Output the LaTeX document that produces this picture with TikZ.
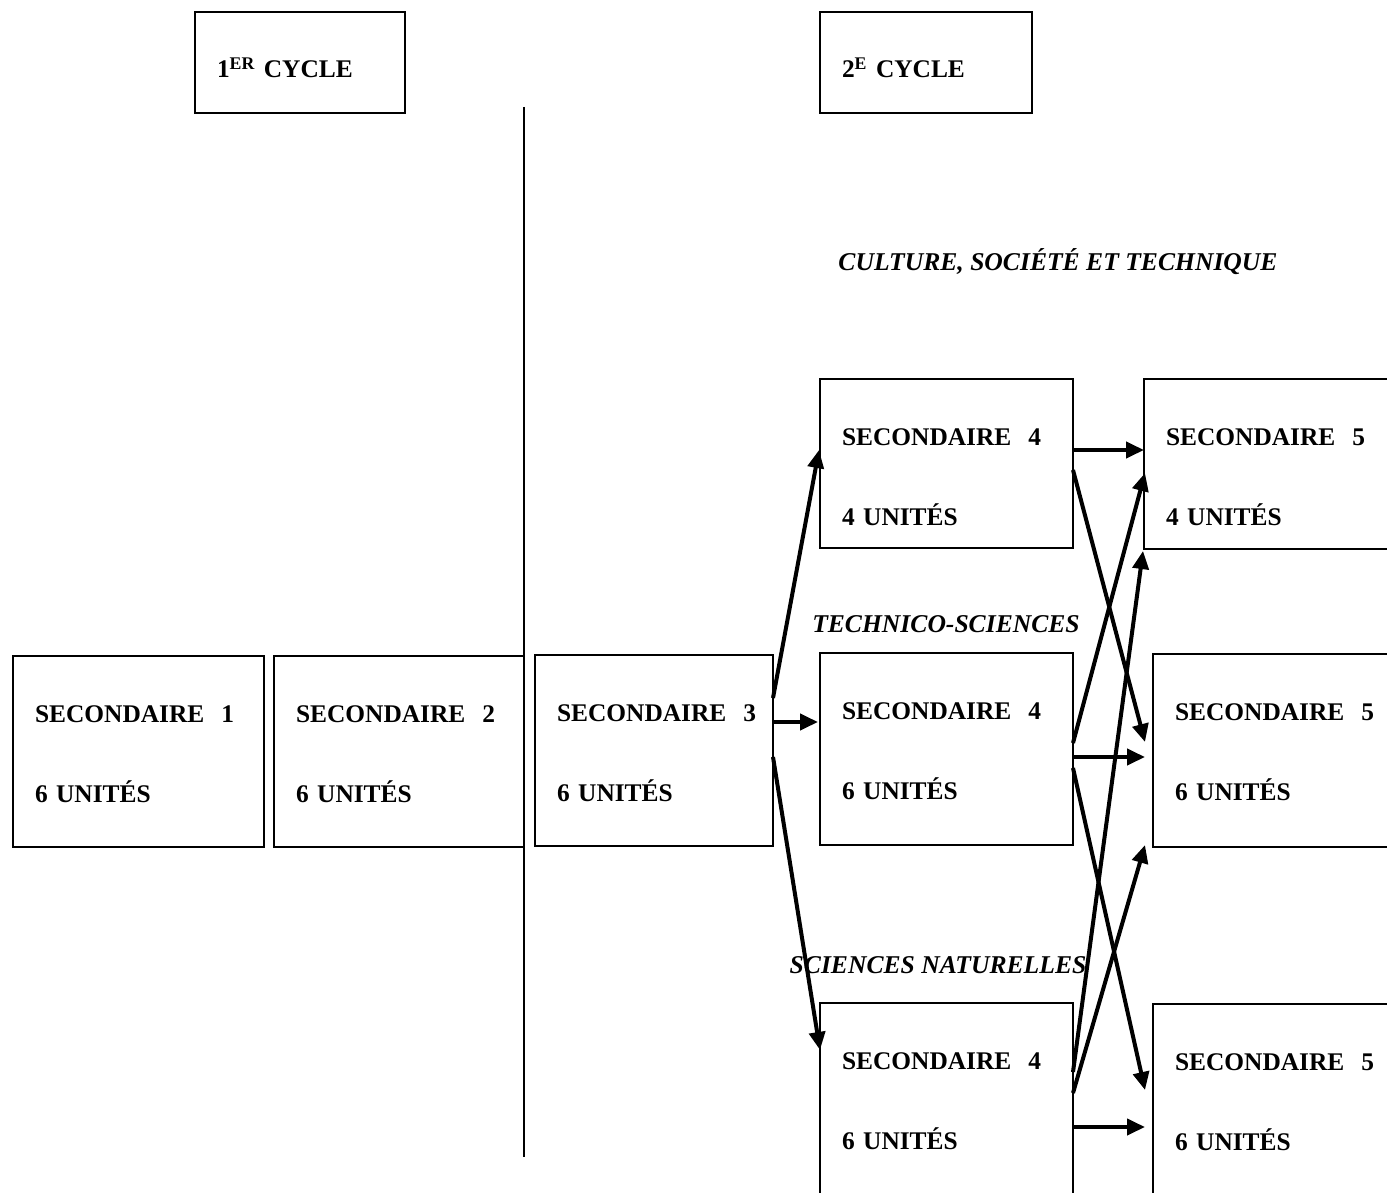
\documentclass[tikz,border=0pt]{standalone}
\usepackage{fontspec}
\setmainfont{Liberation Serif}
\usetikzlibrary{arrows.meta}

\tikzset{
  cadre/.style 2 args={draw, line width=0.75pt, anchor=north west, outer sep=0pt,
    inner xsep=11pt, inner ysep=0pt, text width=#1, text height=33pt, text depth=#2,
    align=left, font=\bfseries\fontsize{12.7}{40}\selectfont},
  filiere/.style={anchor=base, inner sep=0pt, font=\bfseries\itshape\fontsize{12.8}{15}\selectfont},
  fleche/.style={-{Triangle[length=9pt,width=8pt]}, line width=2pt},
}

\begin{document}
\begin{tikzpicture}[x=0.5pt, y=-0.5pt]
    \useasboundingbox (0,0) rectangle (1387,1193);
    \clip (0,0) rectangle (1387,1193);

    % cycles
    \node[cadre={83pt}{17.5pt}] (cycle1) at (195,12) {1\textsuperscript{ER} CYCLE};
    \node[cadre={84pt}{17.5pt}] (cycle2) at (820,12) {2\textsuperscript{E} CYCLE};
    \draw[line width=0.75pt] (524,107) -- (524,1157);

    % 1er cycle
    \node[cadre={103.5pt}{62.5pt}] (sec1) at (13,656) {SECONDAIRE~~1\\6 UNITÉS};
    \node[cadre={103pt}{62.5pt}] (sec2) at (274,656) {SECONDAIRE~~2\\6 UNITÉS};

    % 2e cycle
    \node[cadre={97pt}{62.5pt}] (sec3) at (535,655) {SECONDAIRE~~3\\6 UNITÉS};

    \node[filiere] (cst) at (1058,270) {CULTURE, SOCIÉTÉ ET TECHNIQUE};
    \node[cadre={104.5pt}{51.5pt}] (sec4cst) at (820,379) {SECONDAIRE~~4\\4 UNITÉS};
    \node[cadre={108pt}{52pt}] (sec5cst) at (1144,379) {SECONDAIRE~~5\\4 UNITÉS};

    \node[filiere] (ts) at (946,632) {TECHNICO-SCIENCES};
    \node[cadre={104.5pt}{63pt}] (sec4ts) at (820,653) {SECONDAIRE~~4\\6 UNITÉS};
    \node[cadre={108pt}{63.5pt}] (sec5ts) at (1153,654) {SECONDAIRE~~5\\6 UNITÉS};

    \node[cadre={104.5pt}{67pt}] (sec4sn) at (820,1003) {SECONDAIRE~~4\\6 UNITÉS};
    \node[cadre={108pt}{67pt}] (sec5sn) at (1153,1004) {SECONDAIRE~~5\\6 UNITÉS};
    \node[filiere] (sn) at (938,973) {SCIENCES NATURELLES};

    % secondaire 3 vers secondaire 4
    \draw[fleche] ([shift={(0,43)}]sec3.north east) -- ([shift={(-1,71)}]sec4cst.north west);
    \draw[fleche] ([shift={(0,67)}]sec3.north east) -- ([shift={(-2,69)}]sec4ts.north west);
    \draw[fleche] ([shift={(0,102)}]sec3.north east) -- ([shift={(0,47)}]sec4sn.north west);

    % secondaire 4 vers secondaire 5
    \draw[fleche] ([shift={(0,71)}]sec4cst.north east) -- ([shift={(0,71)}]sec5cst.north west);
    \draw[fleche] ([shift={(0,91)}]sec4cst.north east) -- ([shift={(-8,88)}]sec5ts.north west);

    \draw[fleche] ([shift={(0,90)}]sec4ts.north east) -- ([shift={(1,94)}]sec5cst.north west);
    \draw[fleche] ([shift={(0,104)}]sec4ts.north east) -- ([shift={(-8,103)}]sec5ts.north west);
    \draw[fleche] ([shift={(0,115)}]sec4ts.north east) -- ([shift={(-8,86)}]sec5sn.north west);

    \draw[fleche] ([shift={(0,69)}]sec4sn.north east) -- ([shift={(-1,2)}]sec5cst.south west);
    \draw[fleche] ([shift={(0,90)}]sec4sn.north east) -- ([shift={(-8,-2)}]sec5ts.south west);
    \draw[fleche] ([shift={(0,124)}]sec4sn.north east) -- ([shift={(-8,123)}]sec5sn.north west);
\end{tikzpicture}
\end{document}
